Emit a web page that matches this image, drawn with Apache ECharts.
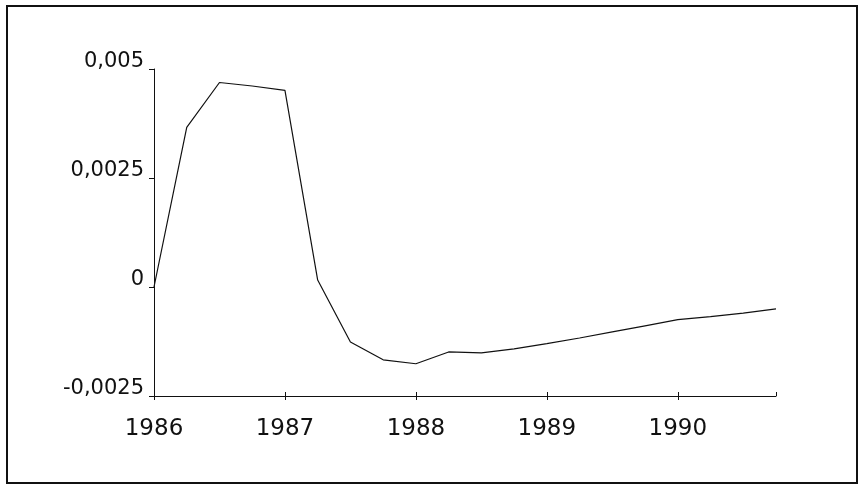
<!DOCTYPE html>
<html>
<head>
<meta charset="utf-8">
<script src="https://cdn.jsdelivr.net/npm/echarts@6/dist/echarts.min.js"></script>
<style>
html,body{margin:0;padding:0;background:#fff;}
#chart{width:860px;height:487px;}
</style>
</head>
<body>
<div id="chart"></div>
<script>
// Quarterly time points (years)
const periods = [1986.0, 1986.25, 1986.5, 1986.75, 1987.0, 1987.25, 1987.5, 1987.75,
                 1988.0, 1988.25, 1988.5, 1988.75, 1989.0, 1989.25, 1989.5, 1989.75,
                 1990.0, 1990.25, 1990.5, 1990.75];
// Series values
const values = [0.0000, 0.00366, 0.00469, 0.00461, 0.00451, 0.00016, -0.00126, -0.00167,
                -0.00176, -0.00149, -0.00151, -0.00142, -0.00130, -0.00117, -0.00103, -0.00089,
                -0.00075, -0.00068, -0.00060, -0.00050];
// Tick labels
const yTickLabels = {"0.005": "0,005", "0.0025": "0,0025", "0": "0", "-0.0025": "-0,0025"};
const xTickLabels = ["1986", "1987", "1988", "1989", "1990"];

const chart = echarts.init(document.getElementById('chart'), null, {renderer: 'canvas'});
const font = '"DejaVu Sans", Verdana, sans-serif';
function xFmt(v) {
  const i = Math.round(v) - 1986;
  return (Math.abs(v - Math.round(v)) < 1e-6 && xTickLabels[i]) ? xTickLabels[i] : '';
}
chart.setOption({
  backgroundColor: '#fff',
  animation: false,
  graphic: [{
    type: 'rect',
    shape: {x: 7, y: 6, width: 850, height: 477},
    style: {fill: 'none', stroke: '#111', lineWidth: 2},
    silent: true
  }],
  grid: {left: 154, right: 84, top: 69, bottom: 91},
  xAxis: [{
    type: 'value',
    min: 1986, max: 1990.75, interval: 1,
    axisLine: {show: true, onZero: false, lineStyle: {color: '#111', width: 1}},
    axisTick: {show: true, length: 4, lineStyle: {color: '#111'}},
    splitLine: {show: false},
    axisLabel: {
      color: '#111', fontSize: 23, fontFamily: font, margin: 22,
      showMaxLabel: false,
      formatter: xFmt
    }
  }, {
    type: 'value',
    position: 'bottom',
    min: 1986, max: 1990.75, interval: 1,
    axisLine: {show: false, onZero: false},
    axisTick: {show: true, inside: true, length: 4, lineStyle: {color: '#111'}},
    splitLine: {show: false},
    axisLabel: {show: false}
  }],
  yAxis: {
    type: 'value',
    min: -0.0025, max: 0.005, interval: 0.0025,
    axisLine: {show: true, lineStyle: {color: '#111', width: 1}},
    axisTick: {show: true, length: 5, lineStyle: {color: '#111'}},
    splitLine: {show: false},
    axisLabel: {
      color: '#111', fontSize: 21, fontFamily: font, margin: 10,
      verticalAlign: 'bottom', lineHeight: 14,
      formatter: function (v) {
        const key = String(Math.round(v * 10000) / 10000);
        return yTickLabels[key] !== undefined ? yTickLabels[key] : '';
      }
    }
  },
  series: [{
    type: 'line',
    xAxisIndex: 0,
    data: periods.map((p, i) => [p, values[i]]),
    showSymbol: false,
    lineStyle: {color: '#111', width: 1.2},
    itemStyle: {color: '#111'}
  }]
});
</script>
</body>
</html>
